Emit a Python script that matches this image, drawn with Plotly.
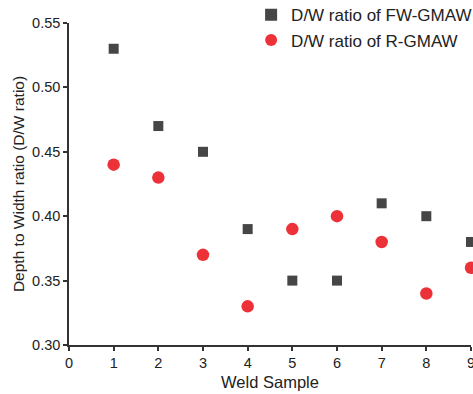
import plotly.graph_objects as go

samples = [1, 2, 3, 4, 5, 6, 7, 8, 9]
fw_gmaw = [0.53, 0.47, 0.45, 0.39, 0.35, 0.35, 0.41, 0.40, 0.38]
r_gmaw = [0.44, 0.43, 0.37, 0.33, 0.39, 0.40, 0.38, 0.34, 0.36]

fig = go.Figure()
fig.add_trace(go.Scatter(x=samples, y=fw_gmaw, mode="markers", name="D/W ratio of FW-GMAW",
                         marker=dict(symbol="square", size=10, color="#464646"), cliponaxis=False))
fig.add_trace(go.Scatter(x=samples, y=r_gmaw, mode="markers", name="D/W ratio of R-GMAW",
                         marker=dict(symbol="circle", size=12.5, color="#ec3238"), cliponaxis=False))

axis_common = dict(showline=True, linecolor="#333333", linewidth=1.5, ticks="outside",
                   ticklen=4, tickwidth=1.5, tickcolor="#333333", showgrid=False, zeroline=False,
                   ticklabeloverflow="allow", automargin=False,
                   tickfont=dict(family="Liberation Sans, Arial", size=14.5, color="#222222"))

fig.update_layout(
    width=473, height=394,
    margin=dict(l=69, r=2, t=23, b=49, autoexpand=False),
    paper_bgcolor="white", plot_bgcolor="white",
    font=dict(family="Liberation Sans, Arial", color="#222222"),
    xaxis=dict(range=[0, 9], tickmode="array", tickvals=list(range(10)),
               title=dict(text="Weld Sample", font=dict(size=16.5), standoff=6), **axis_common),
    yaxis=dict(range=[0.30, 0.55], tickmode="array", tickvals=[0.30, 0.35, 0.40, 0.45, 0.50, 0.55],
               tickformat=".2f",
               title=dict(text="Depth to Width ratio (D/W ratio)", font=dict(size=15.5), standoff=4), **axis_common),
    legend=dict(x=0.453, y=1.08, xanchor="left", yanchor="top", bgcolor="rgba(0,0,0,0)",
                font=dict(size=17, color="#222222"), tracegroupgap=0, itemsizing="constant"),
    showlegend=True,
)

fig.write_html("out.html")
